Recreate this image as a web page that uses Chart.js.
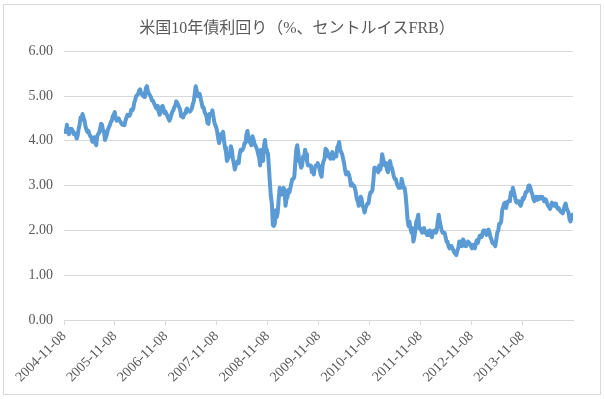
<!DOCTYPE html>
<html>
<head>
<meta charset="utf-8">
<script src="https://cdn.jsdelivr.net/npm/chart.js@4/dist/chart.umd.min.js"></script>
<style>
  html, body { margin: 0; padding: 0; background: #ffffff; }
  #wrap { position: absolute; left: 0; top: 0; width: 604px; height: 399px; }
</style>
</head>
<body>
<div id="wrap"><canvas id="c" width="604" height="399"></canvas></div>
<script>
// ---- data (weekly readings, first week starting 2004-11-08) ----
const chartTitle = '米国10年債利回り（%、セントルイスFRB）';
const startDate = '2004-11-08';
const stepDays = 7;
const lastDate = '2014-11-07';
const weeklyYields = [
  // 2004-11 .. 2005-10
  4.21,4.20,4.20,4.36, 4.20,4.15,4.20,4.27, 4.26,4.22,4.15,4.17,4.14,
  4.05,4.12,4.27,4.36, 4.52,4.48,4.60,4.52, 4.45,4.32,4.25,4.20,
  4.22,4.15,4.10,4.08,3.98, 4.00,4.08,3.95,3.90, 4.10,4.15,4.18,4.27,
  4.38,4.36,4.22,4.20,4.02, 4.08,4.15,4.25,4.30, 4.35,4.42,4.45,4.55,4.58,
  // 2005-11 .. 2006-10
  4.64,4.50,4.45,4.48, 4.50,4.45,4.42,4.38, 4.36,4.38,4.35,4.45,4.52,
  4.58,4.55,4.56,4.60, 4.70,4.68,4.72,4.85, 4.92,5.00,5.02,5.05,
  5.12,5.15,5.05,5.05,5.00, 4.98,5.05,5.18,5.22, 5.10,5.05,5.02,4.98,4.90,
  4.90,4.85,4.80,4.75, 4.72,4.78,4.65,4.58, 4.65,4.75,4.78,4.72,4.62,
  // 2006-11 .. 2007-10
  4.65,4.60,4.55,4.50, 4.45,4.50,4.58,4.65, 4.68,4.75,4.78,4.88,4.85,
  4.80,4.75,4.70,4.55, 4.55,4.52,4.58,4.62, 4.68,4.72,4.68,4.68,4.65,
  4.68,4.72,4.82,4.88, 5.05,5.22,5.12,5.00, 5.05,5.05,4.95,4.85,4.75,
  4.75,4.65,4.60,4.55, 4.40,4.38,4.60,4.60, 4.58,4.68,4.55,4.42,4.35,
  // 2007-11 .. 2008-10
  4.30,4.20,4.05,3.95, 4.05,4.15,4.15,4.20,4.00, 3.85,3.75,3.55,3.60,
  3.65,3.70,3.88,3.80, 3.60,3.50,3.36,3.45,3.50, 3.55,3.50,3.70,3.80,
  3.78,3.80,3.85,3.95, 3.95,4.15,4.22,4.05,3.98, 3.95,3.90,4.10,4.05,
  3.95,3.90,3.85,3.80, 3.70,3.62,3.45,3.80,3.70, 3.55,3.90,4.02,3.80,
  // 2008-11 .. 2009-10
  3.75,3.72,3.40,3.05, 2.75,2.60,2.12,2.10,2.15, 2.45,2.30,2.40,2.70,
  2.95,2.85,2.80,2.85, 2.95,2.90,2.55,2.70,2.75, 2.90,2.85,2.95,3.05,
  3.15,3.15,3.20,3.50, 3.80,3.90,3.75,3.55,3.50, 3.40,3.45,3.65,3.60,
  3.80,3.70,3.55,3.45,3.45, 3.45,3.45,3.30,3.30, 3.25,3.40,3.45,3.45,
  // 2009-11 .. 2010-10
  3.50,3.45,3.35,3.25,3.20, 3.45,3.55,3.60,3.82, 3.80,3.75,3.65,3.65,
  3.60,3.70,3.75,3.60, 3.65,3.70,3.65,3.85,3.90, 3.97,3.80,3.75,3.70,
  3.60,3.50,3.35,3.25,3.30, 3.25,3.25,3.15,3.00, 3.05,3.00,3.00,2.95,
  2.85,2.70,2.65,2.55,2.65, 2.75,2.70,2.55,2.50, 2.40,2.50,2.55,2.60,
  // 2010-11 .. 2011-10
  2.60,2.75,2.85,2.85,2.90, 3.10,3.40,3.40,3.35, 3.35,3.30,3.45,3.35,3.45,
  3.70,3.60,3.50,3.45, 3.50,3.35,3.30,3.45, 3.55,3.45,3.40,3.30,
  3.20,3.15,3.15,3.05,3.00, 2.95,2.95,2.95,3.15, 3.05,2.95,2.95,2.80,
  2.55,2.25,2.10,2.20,2.05, 1.95,2.05,1.75,1.85, 2.00,2.20,2.25,2.35,
  // 2011-10-31 .. 2012-10
  2.05, 2.05,2.00,1.95,2.00, 2.05,1.95,1.95,1.90, 1.98,1.90,2.00,1.90,1.85,
  1.98,1.95,2.00,1.95, 2.00,2.20,2.35,2.20, 2.10,2.00,1.95,1.95,1.95,
  1.85,1.75,1.75,1.65, 1.60,1.65,1.65,1.60, 1.55,1.50,1.48,1.45,1.55,
  1.60,1.75,1.75,1.65, 1.65,1.80,1.75,1.65, 1.65,1.70,1.75,1.75,
  // 2012-10-29 .. 2013-10
  1.70, 1.65,1.60,1.68,1.62, 1.60,1.70,1.78,1.72,1.80, 1.88,1.85,1.85,1.95,
  2.00,2.00,1.95,1.90, 2.00,2.02,1.95,1.85, 1.80,1.72,1.70,1.70,1.65,
  1.80,1.95,2.00,2.15, 2.15,2.20,2.45,2.52, 2.60,2.62,2.50,2.60,2.65,
  2.65,2.70,2.85,2.80, 2.95,2.85,2.75,2.65,2.62, 2.65,2.65,2.58,
  // 2013-10-28 .. 2014-11
  2.55, 2.62,2.72,2.70,2.75, 2.85,2.85,2.90,3.00,3.00, 2.95,2.85,2.80,2.70,
  2.65,2.70,2.75,2.68, 2.75,2.70,2.75,2.72,2.75, 2.70,2.65,2.70,2.68,
  2.60,2.55,2.52,2.48, 2.55,2.62,2.60,2.55,2.55, 2.60,2.52,2.48,2.50,
  2.45,2.42,2.40,2.38, 2.45,2.55,2.60,2.50,2.45, 2.40,2.25,2.20,2.28, 2.35
];
const tickLabels = ['2004-11-08','2005-11-08','2006-11-08','2007-11-08','2008-11-08',
                    '2009-11-08','2010-11-08','2011-11-08','2012-11-08','2013-11-08'];
const yMin = 0, yMax = 6, yStep = 1;

// ---- helpers ----
const DAY = 86400000;
const dayOffset = d => Math.round((Date.parse(d) - Date.parse(startDate)) / DAY);
const points = weeklyYields.map((v, i) => ({ x: i * stepDays, y: v }));
const tickDays = tickLabels.map(dayOffset);

const grey = '#595959';
const gridGrey = '#d9d9d9';
const serif = "'Liberation Serif', 'Noto Sans CJK JP', serif";

const frame = {
  id: 'frame',
  afterDraw(chart) {
    const ctx = chart.ctx;
    ctx.save();
    ctx.strokeStyle = gridGrey;
    ctx.lineWidth = 1;
    ctx.strokeRect(3.5, 4.5, 597, 390);
    ctx.restore();
  }
};

new Chart(document.getElementById('c'), {
  type: 'line',
  data: {
    datasets: [{
      data: points,
      borderColor: '#5b9bd5',
      borderWidth: 4,
      pointRadius: 0,
      tension: 0,
      borderJoinStyle: 'round',
      borderCapStyle: 'round',
      fill: false
    }]
  },
  options: {
    responsive: false,
    animation: false,
    devicePixelRatio: 1,
    layout: { padding: { left: 0, right: 10, top: 0, bottom: 0 } },
    plugins: {
      legend: { display: false },
      tooltip: { enabled: false },
      title: {
        display: true,
        text: chartTitle,
        color: grey,
        font: { family: serif, size: 16, weight: 'normal', lineHeight: 1.2 },
        padding: { top: 19, bottom: 13 }
      }
    },
    scales: {
      x: {
        type: 'linear',
        min: 0,
        max: dayOffset(lastDate),
        afterBuildTicks(scale) { scale.ticks = tickDays.map(v => ({ value: v })); },
        afterFit(scale) { scale.height = 79; },
        grid: { drawOnChartArea: false, drawTicks: true, tickLength: 5, color: gridGrey },
        border: { display: true, color: gridGrey },
        ticks: {
          autoSkip: false,
          minRotation: 45,
          maxRotation: 45,
          padding: 3,
          color: grey,
          font: { family: serif, size: 14 },
          callback: (v, i) => tickLabels[i]
        }
      },
      y: {
        min: yMin,
        max: yMax,
        afterFit(scale) { scale.width = 64; },
        grid: { color: gridGrey, drawTicks: false },
        border: { display: false },
        ticks: {
          stepSize: yStep,
          padding: 11,
          color: grey,
          font: { family: serif, size: 14 },
          callback: v => v.toFixed(2)
        }
      },
      yRight: {
        position: 'right',
        min: yMin,
        max: yMax,
        afterFit(scale) { scale.width = 21; },
        grid: { display: false, drawTicks: false },
        border: { display: false },
        ticks: { display: false }
      }
    }
  },
  plugins: [frame]
});
</script>
</body>
</html>
